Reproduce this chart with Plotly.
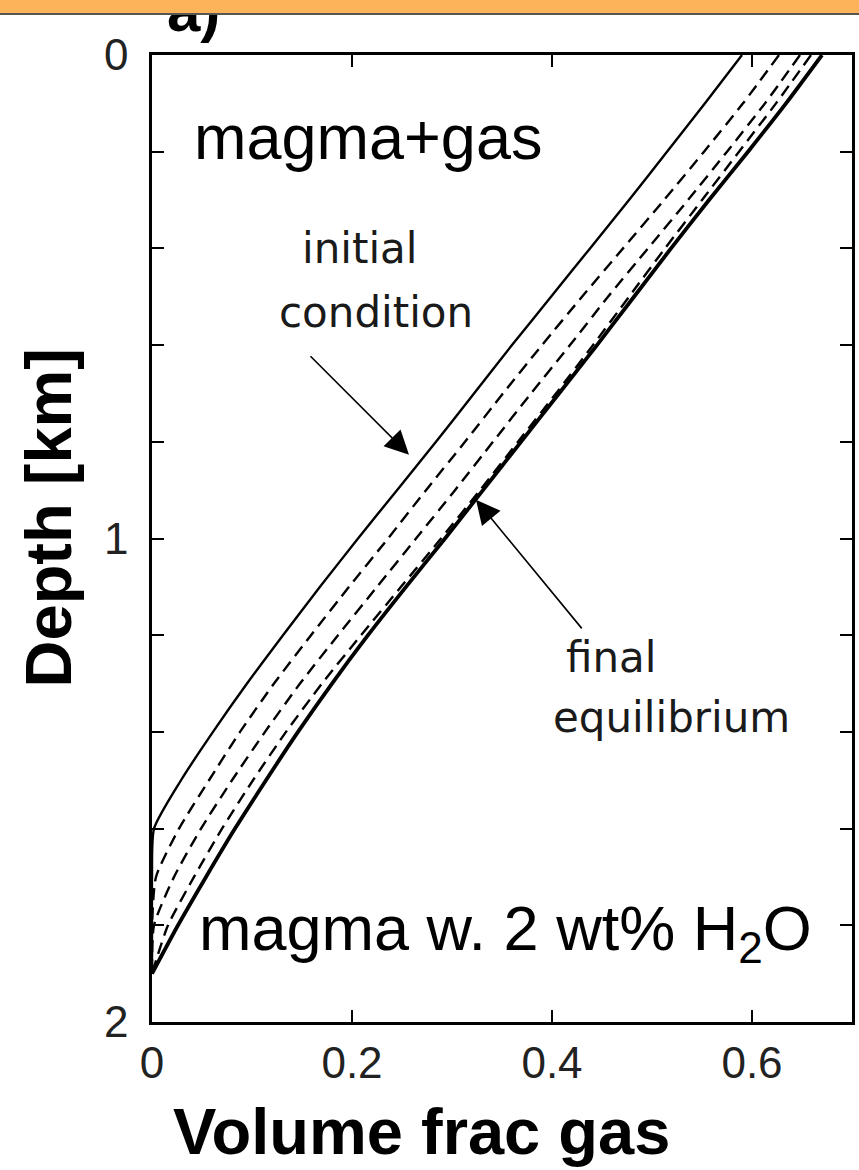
import plotly.graph_objects as go

# ---------------- data ----------------
DEPTH_KM = [0.0, 0.1, 0.2, 0.3, 0.4, 0.5, 0.6, 0.7, 0.8, 0.9,
            1.0, 1.1, 1.2, 1.3, 1.4, 1.5, 1.6, 1.7, 1.8, 1.9]

INITIAL = [0.590, 0.553, 0.515, 0.477, 0.438, 0.399, 0.360, 0.322, 0.284, 0.245,
           0.206, 0.168, 0.131, 0.095, 0.061, 0.029, 0.002, 0.000, 0.000, 0.000]
STEP_1 = [0.627, 0.591, 0.552, 0.512, 0.471, 0.430, 0.390, 0.351, 0.313, 0.274,
          0.236, 0.197, 0.159, 0.122, 0.088, 0.057, 0.027, 0.004, 0.000, 0.000]
STEP_2 = [0.648, 0.613, 0.575, 0.536, 0.496, 0.456, 0.418, 0.379, 0.341, 0.303,
          0.264, 0.225, 0.186, 0.148, 0.113, 0.080, 0.049, 0.022, 0.002, 0.000]
STEP_3 = [0.659, 0.624, 0.587, 0.550, 0.513, 0.477, 0.441, 0.404, 0.366, 0.328,
          0.289, 0.249, 0.209, 0.170, 0.134, 0.101, 0.070, 0.042, 0.016, 0.000]
FINAL = [0.670, 0.634, 0.596, 0.557, 0.519, 0.482, 0.445, 0.407, 0.369, 0.331,
         0.293, 0.254, 0.216, 0.180, 0.146, 0.114, 0.083, 0.054, 0.026, 0.000]

X_TICKS = [0.0, 0.2, 0.4, 0.6]
X_TICK_TEXT = ["0", "0.2", "0.4", "0.6"]
Y_TICKS = [0.0, 0.2, 0.4, 0.6, 0.8, 1.0, 1.2, 1.4, 1.6, 1.8, 2.0]
Y_TICK_TEXT = ["0", "", "", "", "", "1", "", "", "", "", "2"]

# ---------------- layout geometry ----------------
W, H = 859, 1170
L, R, T, B = 152, 855, 55, 1022


def px(xp):
    return (xp - L) / (R - L)


def py(yp):
    return (B - yp) / (B - T)


fig = go.Figure()

curves = [
    (INITIAL, "solid", 2.4),
    (STEP_1, "12px,7px", 2.4),
    (STEP_2, "12px,7px", 2.4),
    (STEP_3, "12px,7px", 2.4),
    (FINAL, "solid", 3.8),
]
for xs, dash, w in curves:
    fig.add_trace(go.Scatter(
        x=xs, y=DEPTH_KM, mode="lines",
        line=dict(color="black", width=w, dash=dash, shape="spline", smoothing=0.6),
        showlegend=False, hoverinfo="skip"))

tickfont = dict(family="Arial, Liberation Sans", size=44, color="#222")
fig.update_xaxes(range=[0, 0.7], tickvals=X_TICKS, ticktext=X_TICK_TEXT,
                 ticks="inside", ticklen=12, tickwidth=2, tickcolor="black",
                 showline=True, linecolor="black", linewidth=2.5, mirror="allticks",
                 showgrid=False, zeroline=False, tickfont=tickfont,
                 ticklabelstandoff=0)
fig.update_yaxes(range=[2, 0], tickvals=Y_TICKS, ticktext=Y_TICK_TEXT,
                 ticks="inside", ticklen=12, tickwidth=2, tickcolor="black",
                 showline=True, linecolor="black", linewidth=2.5, mirror="allticks",
                 showgrid=False, zeroline=False, tickfont=tickfont,
                 ticklabelstandoff=12)

ann = []
# partially hidden panel label
ann.append(dict(text="<b>a)</b>", xref="paper", yref="paper", x=px(165), y=py(11),
                xanchor="left", yanchor="middle", showarrow=False,
                font=dict(family="Arial, Liberation Sans", size=60, color="black")))
# orange bar on top (drawn after the label so it covers it)
ann.append(dict(text=" ", xref="paper", yref="paper", x=px(W / 2), y=py(-1),
                xanchor="center", yanchor="middle", showarrow=False,
                width=W + 20, height=26, bgcolor="#FDB35A",
                bordercolor="#555", borderwidth=2))

big = dict(family="Arial, Liberation Sans", size=63, color="black")
ann.append(dict(text="magma+gas", xref="paper", yref="paper", x=px(192), y=py(137),
                xanchor="left", yanchor="middle", showarrow=False, font=big))
ann.append(dict(text="magma w. 2 wt% H<sub>2</sub>O", xref="paper", yref="paper",
                x=px(197), y=py(932), xanchor="left", yanchor="middle",
                showarrow=False, font=big))

small = dict(family="DejaVu Sans", size=42, color="#1a1a1a")
for t, xp, yp in [("initial", 361, 248), ("condition", 377, 312),
                  ("final", 613, 657), ("equilibrium", 674, 717)]:
    ann.append(dict(text=t, xref="paper", yref="paper", x=px(xp), y=py(yp),
                    xanchor="center", yanchor="middle", showarrow=False, font=small))

# arrows
ann.append(dict(x=0.257, y=0.827, ax=0.157, ay=0.620, xref="x", yref="y",
                axref="x", ayref="y", text="", showarrow=True,
                arrowhead=2, arrowsize=3, arrowwidth=1.6, arrowcolor="black"))
ann.append(dict(x=0.324, y=0.920, ax=0.431, ay=1.189, xref="x", yref="y",
                axref="x", ayref="y", text="", showarrow=True,
                arrowhead=2, arrowsize=3, arrowwidth=1.6, arrowcolor="black"))

bold = dict(family="Arial, Liberation Sans", size=65, color="black")
ann.append(dict(text="<b>Depth [km]</b>", xref="paper", yref="paper",
                x=px(48), y=py(518), textangle=-90, xanchor="center",
                yanchor="middle", showarrow=False, font=bold))
ann.append(dict(text="<b>Volume frac gas</b>", xref="paper", yref="paper",
                x=px(423), y=py(1131), xanchor="center", yanchor="middle",
                showarrow=False, font=bold))

fig.update_layout(width=W, height=H, margin=dict(l=L, r=W - R, t=T, b=H - B),
                  paper_bgcolor="white", plot_bgcolor="white",
                  annotations=ann)

fig.write_html("out.html", config={"displayModeBar": False},
               post_script="document.body.style.margin='0';document.body.style.overflow='hidden';")
